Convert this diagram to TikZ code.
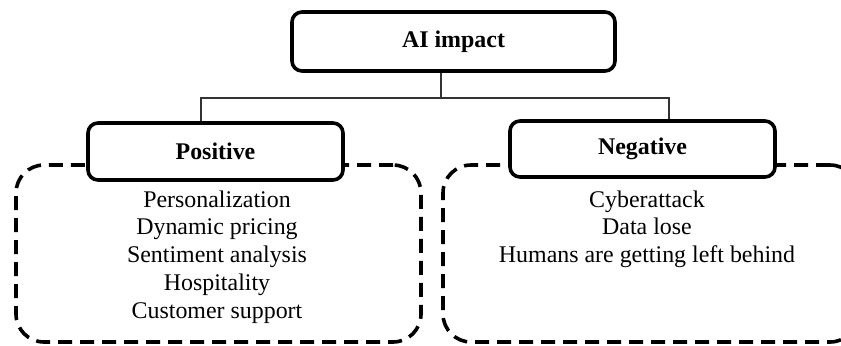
\documentclass[tikz,border=0pt]{standalone}
\usepackage{fontspec}
\setmainfont{Liberation Serif}
\usetikzlibrary{positioning,calc}

\begin{document}
\begin{tikzpicture}[
    x=0.5bp, y=-0.5bp,
    box/.style={rectangle, draw, line width=1.8pt, rounded corners=5bp, fill=white, inner sep=0pt, font=\fontsize{12}{14}\selectfont\bfseries},
    group/.style={rectangle, draw, line width=1.8pt, dash pattern=on 7bp off 4bp, rounded corners=14bp, inner sep=0pt},
    items/.style={align=center, inner sep=0pt, anchor=north, font=\fontsize{12}{14}\selectfont},
    link/.style={draw=black!80, line width=0.8pt}
]
    \useasboundingbox (0,0) rectangle (841,345);

    % Groups
    \node[group, minimum width=202.5bp, minimum height=88.5bp] (posgroup) at (218.5,253.5) {};
    \node[group, minimum width=207.5bp, minimum height=88.5bp] (neggroup) at (650.5,253.5) {};

    % Top
    \node[box, minimum width=161.5bp, minimum height=29.5bp] (impact) at (453.5,41.5) {AI impact};

    % Branches
    \node[box, minimum width=127.5bp, minimum height=28.5bp] (pos) at (215.5,151.5) {Positive};
    \node[box, minimum width=132.5bp, minimum height=28bp] (neg) at (642.5,149) {Negative};

    % Lists
    \node[items] (poslist) at (217,190) {Personalization\\Dynamic pricing\\Sentiment analysis\\Hospitality\\Customer support};
    \node[items] (neglist) at (647,190) {Cyberattack\\Data lose\\Humans are getting left behind};

    % Edges
    \coordinate (fork) at (441,98);
    \draw[link] (impact.south -| fork) -- (fork);
    \draw[link] ($(pos.north)+(-14.5,0)$) |- (fork) -| ($(neg.north)+(26.5,0)$);
\end{tikzpicture}
\end{document}
